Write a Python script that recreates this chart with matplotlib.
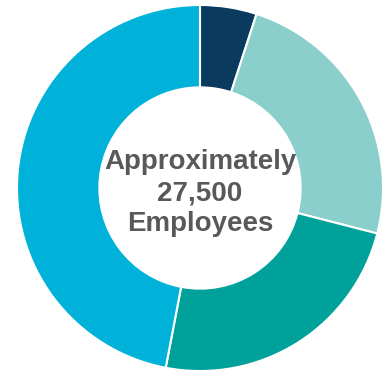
import matplotlib.pyplot as plt

shares = [5, 24, 24, 47]
colors = ['#0b3a5f', '#8acfcb', '#00a19a', '#00b1da']
center_lines = ['Approximately', '27,500', 'Employees']


def main():
    fig = plt.figure(figsize=(3.84, 3.72), dpi=100)
    ax = fig.add_axes([17 / 384, 1 / 372, 366 / 384, 366 / 372])

    ax.pie(shares, colors=colors, startangle=90, counterclock=False,
           radius=1.0,
           wedgeprops=dict(width=0.45, edgecolor='white', linewidth=1.5))
    ax.set_xlim(-1, 1)
    ax.set_ylim(-1, 1)
    ax.set_aspect('equal')
    ax.axis('off')

    ax.text(0, -0.03, '\n'.join(center_lines), ha='center', va='center',
            fontsize=20, fontweight='bold', color='#595959',
            family=['Liberation Sans', 'DejaVu Sans'], linespacing=1.25)

    fig.savefig('out.png', dpi=100)


if __name__ == '__main__':
    main()
